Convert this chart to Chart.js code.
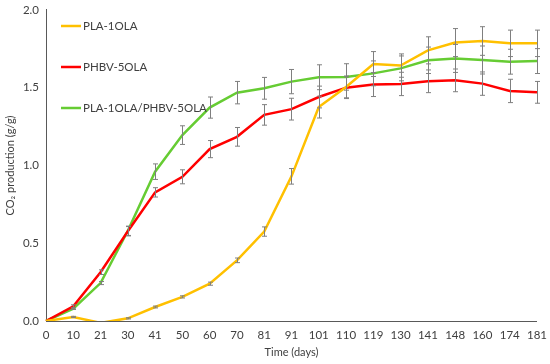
<!DOCTYPE html>
<html>
<head>
<meta charset="utf-8">
<script src="https://cdn.jsdelivr.net/npm/chart.js@4.4.1/dist/chart.umd.min.js"></script>
<style>
html,body{margin:0;padding:0;background:#fff;}
#wrap{position:relative;width:550px;height:364px;}
</style>
</head>
<body>
<div id="wrap"><canvas id="c" width="550" height="364"></canvas></div>
<script>
const days = ['0','10','21','30','41','50','60','70','81','91','101','110','119','130','141','148','160','174','181'];
const seriesNames = ['PLA-1OLA','PHBV-5OLA','PLA-1OLA/PHBV-5OLA'];
const pla = [0,0.026,-0.012,0.017,0.09,0.155,0.24,0.39,0.575,0.93,1.375,1.505,1.652,1.642,1.74,1.79,1.80,1.785,1.785];
const plaErr = [0,0.004,0,0.004,0.006,0.007,0.01,0.015,0.03,0.05,0.07,0.07,0.08,0.075,0.087,0.09,0.092,0.085,0.085];
const phbv = [0,0.094,0.314,0.577,0.827,0.927,1.105,1.184,1.325,1.362,1.44,1.50,1.52,1.524,1.541,1.547,1.526,1.479,1.47];
const phbvErr = [0,0.01,0.015,0.03,0.03,0.045,0.055,0.06,0.066,0.07,0.07,0.07,0.077,0.075,0.073,0.073,0.075,0.075,0.07];
const blend = [0,0.079,0.244,0.58,0.96,1.195,1.372,1.468,1.496,1.539,1.567,1.569,1.592,1.624,1.676,1.688,1.678,1.667,1.671];
const blendErr = [0,0.005,0.01,0.03,0.05,0.06,0.068,0.072,0.07,0.078,0.08,0.085,0.08,0.08,0.085,0.09,0.09,0.08,0.08];
const colors = ['#FFC000','#FF0000','#66CC33'];
const yTicks = [0,0.5,1.0,1.5,2.0];

const FONT = 'Lato, "Open Sans", sans-serif';
const TXT = '#404040';

const errorBars = {
  id:'errorBars',
  afterDatasetsDraw(chart){
    const ctx = chart.ctx, ys = chart.scales.y;
    const area = chart.chartArea;
    ctx.save();
    ctx.beginPath(); ctx.rect(area.left-5, area.top-5, area.right-area.left+10, area.bottom-area.top+5); ctx.clip();
    ctx.strokeStyle = '#7f7f7f'; ctx.lineWidth = 1;
    chart.data.datasets.forEach((ds,i)=>{
      const meta = chart.getDatasetMeta(i);
      meta.data.forEach((pt,j)=>{
        const e = ds.err[j]; if(!e) return;
        const v = ds.data[j];
        const x = Math.round(pt.x)+0.5;
        const y1 = ys.getPixelForValue(v+e), y2 = ys.getPixelForValue(v-e);
        ctx.beginPath();
        ctx.moveTo(x,y1); ctx.lineTo(x,y2);
        ctx.moveTo(x-2.5,y1); ctx.lineTo(x+2.5,y1);
        ctx.moveTo(x-2.5,y2); ctx.lineTo(x+2.5,y2);
        ctx.stroke();
      });
    });
    ctx.restore();
  }
};

const legendPlugin = {
  id:'customLegend',
  afterDraw(chart){
    const ctx = chart.ctx;
    ctx.save();
    chart.data.datasets.forEach((ds,i)=>{
      const y = 26 + 41*i;
      ctx.strokeStyle = ds.borderColor; ctx.lineWidth = 2.5;
      ctx.beginPath(); ctx.moveTo(61,y); ctx.lineTo(81,y); ctx.stroke();
      ctx.fillStyle = TXT; ctx.font = '11.5px '+FONT; ctx.textBaseline = 'middle'; ctx.textAlign='left';
      ctx.fillText(ds.label, 83, y+0.5);
    });
    ctx.restore();
  }
};

new Chart(document.getElementById('c'), {
  type:'line',
  data:{
    labels: days,
    datasets:[
      {label:seriesNames[0], data:pla, err:plaErr, borderColor:colors[0], backgroundColor:colors[0], borderWidth:2.5, pointRadius:0, tension:0},
      {label:seriesNames[1], data:phbv, err:phbvErr, borderColor:colors[1], backgroundColor:colors[1], borderWidth:2.5, pointRadius:0, tension:0},
      {label:seriesNames[2], data:blend, err:blendErr, borderColor:colors[2], backgroundColor:colors[2], borderWidth:2.5, pointRadius:0, tension:0}
    ]
  },
  options:{
    responsive:false, animation:false,
    layout:{padding:{left:4,right:6,top:2,bottom:5}},
    plugins:{legend:{display:false}, tooltip:{enabled:false}},
    scales:{
      x:{
        offset:false,
        grid:{display:false, drawTicks:true, tickLength:4, tickColor:'#595959'},
        border:{color:'#595959', width:1},
        ticks:{color:TXT, font:{family:FONT, size:11.5}, maxRotation:0, autoSkip:false, padding:3},
        title:{display:true, text:'Time (days)', color:TXT, font:{family:FONT, size:11}, padding:{top:1,bottom:0}}
      },
      y:{
        min:0, max:2,
        afterBuildTicks(scale){ scale.ticks = yTicks.map(v=>({value:v})); },
        grid:{display:false, drawTicks:true, tickLength:4, tickColor:'#595959'},
        border:{color:'#595959', width:1},
        ticks:{color:TXT, font:{family:FONT, size:11.5}, padding:3, callback:v=>Number(v).toFixed(1)},
        title:{display:true, text:'CO\u2082 production (g/g)', color:TXT, font:{family:FONT, size:11}, padding:{top:0,bottom:2}},
        afterFit(scale){ scale.width = 42; }
      }
    }
  },
  plugins:[errorBars, legendPlugin]
});
</script>
</body>
</html>
